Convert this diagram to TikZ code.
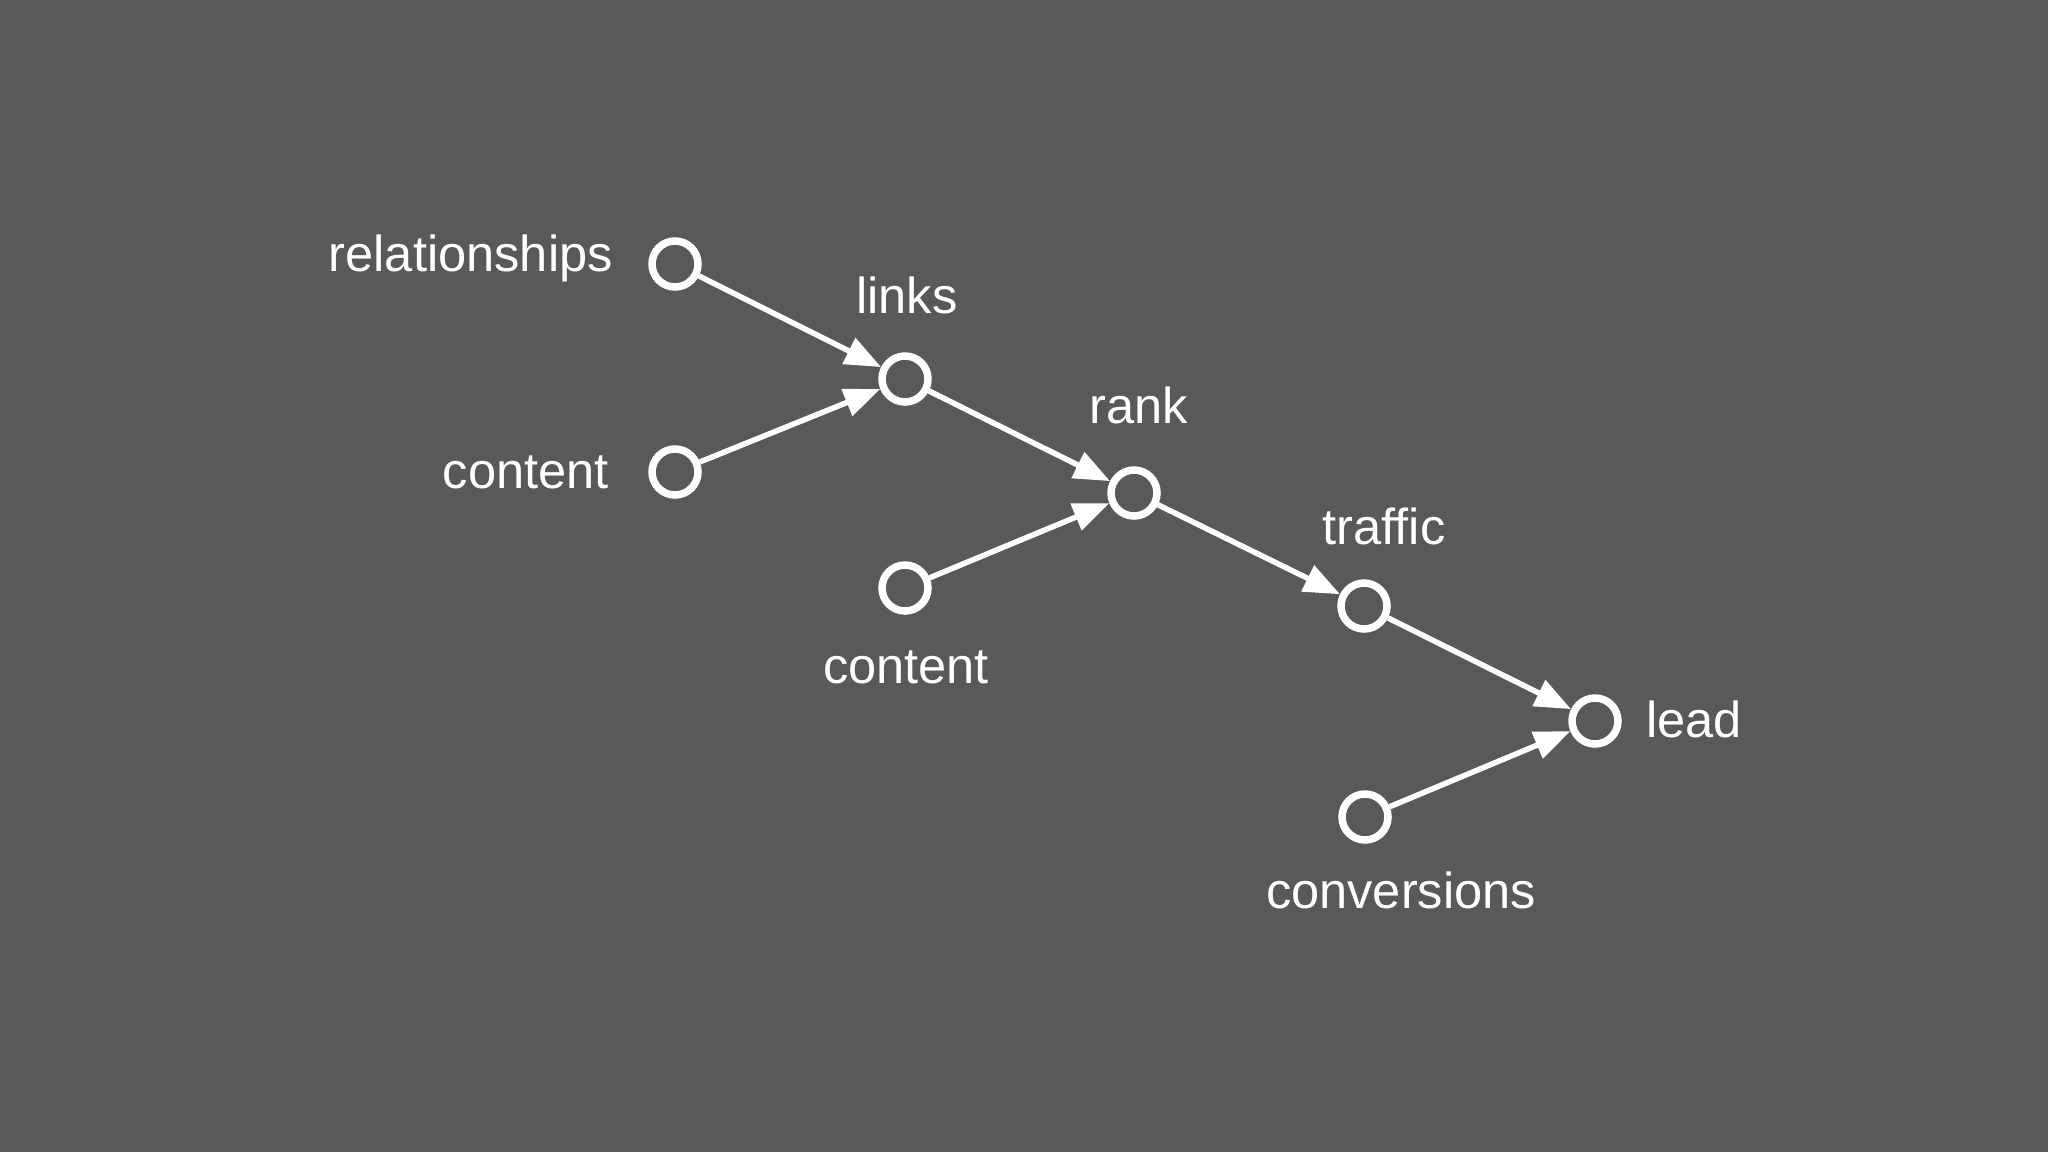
\documentclass[tikz,border=0pt]{standalone}
\usepackage{fontspec}
\setmainfont{Liberation Sans}
\usetikzlibrary{arrows.meta}
\definecolor{bgc}{HTML}{595959}
\begin{document}
\begin{tikzpicture}[x=1pt,y=-1pt,
  dot/.style={circle, draw=white, line width=7.5pt, minimum size=46pt, inner sep=0pt},
  lbl/.style={text=white, font=\fontsize{50.6}{60}\selectfont, inner sep=0pt},
  conn/.style={draw=white, line width=5.5pt, -{Triangle[length=36pt,width=28pt]}}]
\fill[bgc] (0,0) rectangle (2048,1152);
\useasboundingbox (0,0) rectangle (2048,1152);
\node[dot] (rel) at (675,264) {};
\node[dot] (con1) at (675,472) {};
\node[dot] (links) at (905,379) {};
\node[dot] (con2) at (905,588) {};
\node[dot] (rank) at (1134,493) {};
\node[dot] (traffic) at (1364,606) {};
\node[dot] (lead) at (1595,721) {};
\node[dot] (conv) at (1365,817) {};
\node[lbl, anchor=base east] (trel) at (613,271) {relationships};
\node[lbl, anchor=base east] (tcon1) at (609,488) {content};
\node[lbl, anchor=base] (tlinks) at (907,313) {links};
\node[lbl, anchor=base] (trank) at (1139,423) {rank};
\node[lbl, anchor=base] (ttraffic) at (1384,544) {traffic};
\node[lbl, anchor=base] (tcon2) at (906,683) {content};
\node[lbl, anchor=base west] (tlead) at (1646,737) {lead};
\node[lbl, anchor=base] (tconv) at (1401,908) {conversions};
\draw[conn] (rel) -- (links);
\draw[conn] (con1) -- (links);
\draw[conn] (links) -- (rank);
\draw[conn] (con2) -- (rank);
\draw[conn] (rank) -- (traffic);
\draw[conn] (traffic) -- (lead);
\draw[conn] (conv) -- (lead);
\end{tikzpicture}
\end{document}
